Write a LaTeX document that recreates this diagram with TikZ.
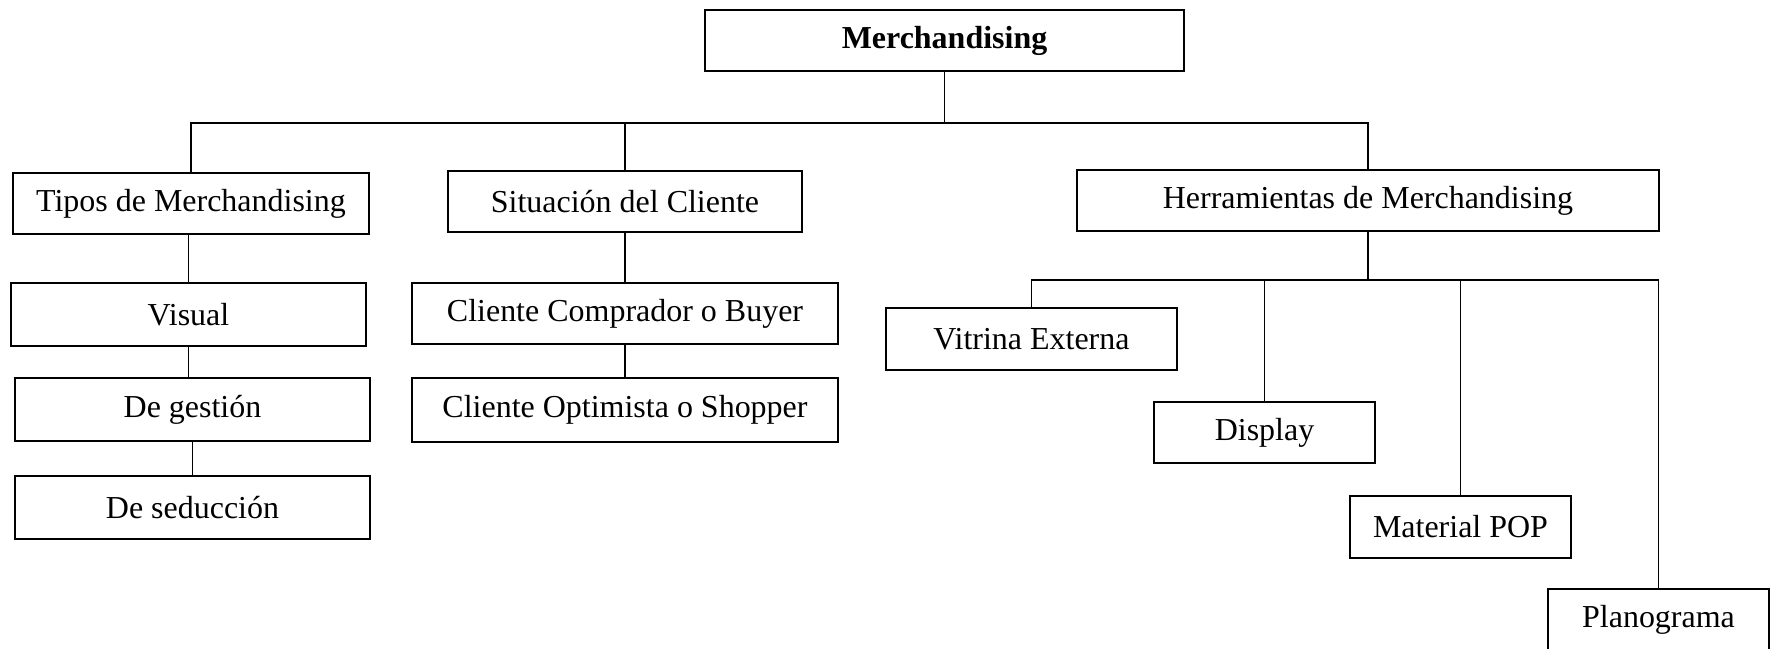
\documentclass[tikz,border=0pt]{standalone}
\usepackage{fontspec}
\setmainfont{Liberation Serif}
\usepackage{tikz}
\usetikzlibrary{positioning, calc}

\begin{document}
\begin{tikzpicture}[
  x=0.02cm, y=-0.02cm,
  box/.style={
    draw=black, line width=0.85pt, rectangle, inner sep=0pt,
    minimum height=1.22cm, align=center,
    font=\fontsize{18.2}{21}\selectfont
  },
  link/.style={line width=0.8pt, black},
]
\useasboundingbox (0,0) rectangle (1775,649);

% Root
\node[box, minimum width=9.58cm, font=\fontsize{18.2}{21}\selectfont\bfseries]
  (merch) at (944.5, 40.5) {Merchandising};

% First level
\node[box, minimum width=7.12cm] (tipos) at (191, 203.5)  {Tipos de Merchandising};
\node[box, minimum width=7.08cm] (sit)   at (625, 201.5)  {Situación del Cliente};
\node[box, minimum width=11.64cm] (herr) at (1368, 200.5) {Herramientas de Merchandising};

% Tipos de Merchandising
\node[box, minimum width=7.1cm, minimum height=1.26cm] (visual)    at (188.5, 314.5) {Visual};
\node[box, minimum width=7.1cm, minimum height=1.26cm] (gestion)   at (192.5, 409.5) {De gestión};
\node[box, minimum width=7.1cm, minimum height=1.26cm] (seduccion) at (192.5, 507.5) {De seducción};

% Situacion del Cliente
\node[box, minimum width=8.52cm] (comprador) at (625, 313.5) {Cliente Comprador o Buyer};
\node[box, minimum width=8.52cm, minimum height=1.28cm] (optimista) at (625, 410) {Cliente Optimista o Shopper};

% Herramientas
\node[box, minimum width=5.82cm, minimum height=1.24cm] (vitrina) at (1031.5, 339) {Vitrina Externa};
\node[box, minimum width=4.42cm] (display) at (1264.5, 432.5) {Display};
\node[box, minimum width=4.42cm, minimum height=1.24cm] (pop) at (1460.5, 527) {Material POP};
\node[box, minimum width=4.42cm, minimum height=1.24cm] (plano) at (1658.5, 620) {Planograma};

% Buses
\coordinate (topbus)  at (0, 123);
\coordinate (toolbus) at (0, 280);

% Connectors
\draw[link] (merch) -- (merch |- topbus);
\draw[link] (tipos) |- (merch |- topbus) -| (herr);
\draw[link] (sit) -- (sit |- topbus);

\draw[link] (visual) -- (visual |- tipos.south);
\draw[link] (visual) -- (visual |- gestion.north);
\draw[link] (gestion) -- (seduccion);

\draw[link] (sit) -- (comprador);
\draw[link] (comprador) -- (optimista);

\draw[link] (herr) -- (herr |- toolbus);
\draw[link] (vitrina) |- (herr |- toolbus) -| (plano);
\draw[link] (display) -- (display |- toolbus);
\draw[link] (pop) -- (pop |- toolbus);

\end{tikzpicture}
\end{document}
